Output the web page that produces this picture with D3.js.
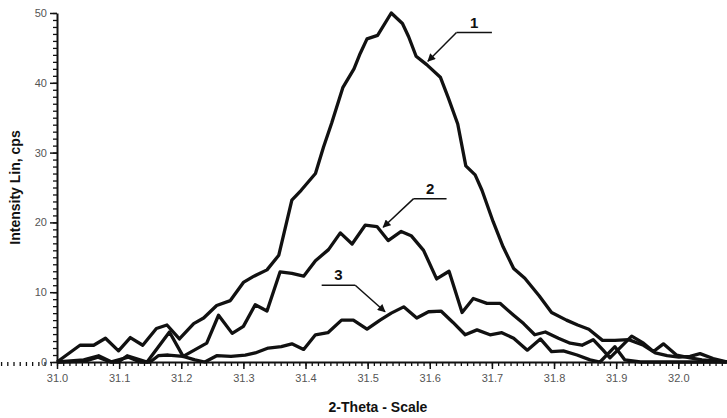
<!DOCTYPE html>
<html>
<head>
<meta charset="utf-8">
<script src="https://cdn.jsdelivr.net/npm/d3@7"></script>
<style>
  body { margin: 0; background: #fff; }
  svg { display: block; font-family: Arial, "Liberation Sans", sans-serif; }
  .tick text { fill: #555; font-size: 11px; }
  .axis path, .axis line { stroke: #111; }
  .label { font-weight: bold; font-size: 14px; fill: #111; }
  .mark { font-weight: bold; font-size: 15px; fill: #111; }
</style>
</head>
<body>
<svg width="727" height="418"></svg>
<script>
// 2-theta positions (deg) and intensities (cps)
const theta1 = [31.000, 31.037, 31.059, 31.078, 31.099, 31.118, 31.138, 31.160, 31.177, 31.197,
  31.220, 31.236, 31.257, 31.279, 31.300, 31.317, 31.338, 31.357, 31.378, 31.393,
  31.416, 31.429, 31.442, 31.460, 31.478, 31.488, 31.499, 31.516, 31.538, 31.556,
  31.566, 31.578, 31.595, 31.617, 31.630, 31.645, 31.658, 31.673, 31.684, 31.702,
  31.718, 31.735, 31.753, 31.776, 31.796, 31.820, 31.838, 31.856, 31.878, 31.898,
  31.920, 31.944, 31.963, 31.982, 32.001, 32.019, 32.035, 32.056, 32.078];
const counts1 = [0.0, 2.4, 2.4, 3.4, 1.6, 3.5, 2.4, 4.8, 5.3, 3.3,
  5.5, 6.3, 8.1, 8.8, 11.4, 12.3, 13.2, 15.3, 23.2, 24.6,
  27.0, 30.8, 34.2, 39.3, 42.0, 44.2, 46.3, 46.8, 50.0, 48.5,
  46.6, 43.8, 42.6, 40.8, 37.8, 34.1, 28.1, 26.8, 24.6, 20.1,
  16.5, 13.4, 12.0, 9.5, 7.1, 6.0, 5.3, 4.7, 3.1, 3.1,
  3.2, 2.4, 1.3, 0.9, 0.7, 0.8, 1.2, 0.5, 0.0];

const theta2 = [31.000, 31.043, 31.067, 31.088, 31.099, 31.113, 31.131, 31.145, 31.181, 31.203,
  31.241, 31.260, 31.282, 31.300, 31.319, 31.338, 31.359, 31.378, 31.397, 31.416,
  31.437, 31.456, 31.475, 31.496, 31.515, 31.533, 31.554, 31.570, 31.590, 31.611,
  31.631, 31.652, 31.670, 31.692, 31.713, 31.735, 31.751, 31.769, 31.786, 31.807,
  31.826, 31.845, 31.863, 31.879, 31.890, 31.925, 31.944, 31.960, 31.976, 31.997,
  32.019, 32.038, 32.078];
const counts2 = [0.0, 0.3, 0.9, 0.0, 0.0, 0.9, 0.4, 0.0, 4.3, 0.8,
  2.7, 6.7, 4.1, 5.1, 8.2, 7.3, 12.9, 12.7, 12.3, 14.5,
  16.1, 18.5, 16.9, 19.6, 19.4, 17.4, 18.7, 18.1, 16.0, 11.9,
  13.0, 7.1, 9.1, 8.4, 8.4, 6.7, 5.5, 3.9, 4.3, 3.4,
  2.7, 2.4, 3.2, 1.7, 0.6, 3.7, 2.7, 1.5, 2.6, 1.0,
  0.6, 0.3, 0.0];

const theta3 = [31.000, 31.045, 31.066, 31.086, 31.115, 31.134, 31.150, 31.163, 31.179, 31.203,
  31.222, 31.238, 31.257, 31.280, 31.303, 31.319, 31.340, 31.361, 31.378, 31.397,
  31.416, 31.436, 31.458, 31.477, 31.499, 31.520, 31.538, 31.558, 31.579, 31.598,
  31.618, 31.637, 31.657, 31.676, 31.697, 31.716, 31.735, 31.757, 31.778, 31.796,
  31.815, 31.837, 31.858, 31.874, 31.898, 31.914, 31.939, 32.078];
const counts3 = [0.0, 0.1, 0.7, 0.0, 0.7, 0.0, 0.0, 0.9, 1.0, 0.8,
  0.3, 0.0, 0.9, 0.8, 1.0, 1.3, 2.0, 2.2, 2.6, 1.8,
  3.9, 4.2, 6.0, 6.0, 4.7, 6.0, 7.0, 7.9, 6.3, 7.2,
  7.3, 5.7, 3.9, 4.6, 3.9, 4.2, 3.4, 1.7, 3.3, 1.5,
  1.6, 1.0, 0.3, 0.0, 2.2, 0.3, 0.0, 0.0];

const xTicks = [31.0, 31.1, 31.2, 31.3, 31.4, 31.5, 31.6, 31.7, 31.8, 31.9, 32.0];
const yTicks = [0, 10, 20, 30, 40, 50];

// curve labels: name, arrow tip (theta, cps), leader bar (theta start, theta end, cps)
const markNames = ['1', '2', '3'];
const markTips = [[31.597, 43.1], [31.525, 19.3], [31.528, 7.2]];
const markBars = [[31.643, 31.700, 47.2], [31.574, 31.627, 23.4], [31.426, 31.480, 11.0]];
const markTail = ['start', 'start', 'end'];

const svg = d3.select('svg');

const x = d3.scaleLinear().domain([31.0, 32.08]).range([57, 728]);
const y = d3.scaleLinear().domain([0, 50]).range([362, 13]);

svg.append('defs').append('marker')
  .attr('id', 'arr')
  .attr('viewBox', '0 0 10 10')
  .attr('refX', 9).attr('refY', 5)
  .attr('markerWidth', 9).attr('markerHeight', 8)
  .attr('markerUnits', 'userSpaceOnUse')
  .attr('orient', 'auto')
  .append('path')
  .attr('d', 'M0,0 L10,5 L0,10 Z')
  .attr('fill', '#111');

// minor ticks
svg.append('g')
  .attr('class', 'axis')
  .attr('transform', `translate(0, ${y(0)})`)
  .call(d3.axisBottom(x).tickValues(d3.range(310, 3209).map(d => d / 100)).tickSize(4).tickFormat(''))
  .call(g => g.selectAll('line').attr('stroke-width', 1.3))
  .call(g => g.select('.domain').remove());

svg.append('g')
  .attr('class', 'axis')
  .attr('transform', `translate(${x(31.0)}, 0)`)
  .call(d3.axisLeft(y).tickValues(d3.range(0, 51)).tickSize(4).tickFormat(''))
  .call(g => g.selectAll('line').attr('stroke-width', 1.3))
  .call(g => g.select('.domain').remove());

// major ticks + labels
svg.append('g')
  .attr('class', 'axis')
  .attr('transform', `translate(0, ${y(0)})`)
  .call(d3.axisBottom(x).tickValues(xTicks).tickSize(7).tickSizeOuter(0).tickPadding(5).tickFormat(d3.format('.1f')))
  .call(g => g.selectAll('line').attr('stroke-width', 1.5))
  .call(g => g.select('.domain').attr('stroke-width', 2));

svg.append('g')
  .attr('class', 'axis')
  .attr('transform', `translate(${x(31.0)}, 0)`)
  .call(d3.axisLeft(y).tickValues(yTicks).tickSize(7).tickSizeOuter(0).tickPadding(3))
  .call(g => g.selectAll('line').attr('stroke-width', 1.5))
  .call(g => g.select('.domain').attr('stroke-width', 2));

const line = d3.line().x(d => x(d[0])).y(d => y(d[1]));

const series = [
  d3.zip(theta3, counts3),
  d3.zip(theta2, counts2),
  d3.zip(theta1, counts1)
];

svg.append('g')
  .selectAll('path')
  .data(series)
  .join('path')
  .attr('d', line)
  .attr('fill', 'none')
  .attr('stroke', '#111')
  .attr('stroke-width', 3.3)
  .attr('stroke-linejoin', 'round');

// curve labels with leaders
const marks = svg.append('g').selectAll('g')
  .data(markNames.map((n, i) => ({ n, tip: markTips[i], bar: markBars[i], tail: markTail[i] })))
  .join('g');

marks.append('line')
  .attr('x1', d => x(d.bar[0])).attr('x2', d => x(d.bar[1]))
  .attr('y1', d => y(d.bar[2])).attr('y2', d => y(d.bar[2]))
  .attr('stroke', '#111').attr('stroke-width', 1.5);

marks.append('line')
  .attr('x1', d => x(d.tail === 'start' ? d.bar[0] : d.bar[1]))
  .attr('y1', d => y(d.bar[2]))
  .attr('x2', d => x(d.tip[0])).attr('y2', d => y(d.tip[1]))
  .attr('stroke', '#111').attr('stroke-width', 1.5)
  .attr('marker-end', 'url(#arr)');

marks.append('text')
  .attr('class', 'mark')
  .attr('x', d => x((d.bar[0] + d.bar[1]) / 2))
  .attr('y', d => y(d.bar[2]) - 5)
  .attr('text-anchor', 'middle')
  .text(d => d.n);

svg.append('text')
  .attr('class', 'label')
  .attr('transform', `translate(20, ${(y(0) + y(50)) / 2}) rotate(-90)`)
  .attr('text-anchor', 'middle')
  .text('Intensity Lin, cps');

svg.append('text')
  .attr('class', 'label')
  .attr('x', 378)
  .attr('y', 412)
  .attr('text-anchor', 'middle')
  .text('2-Theta - Scale');
</script>
</body>
</html>
